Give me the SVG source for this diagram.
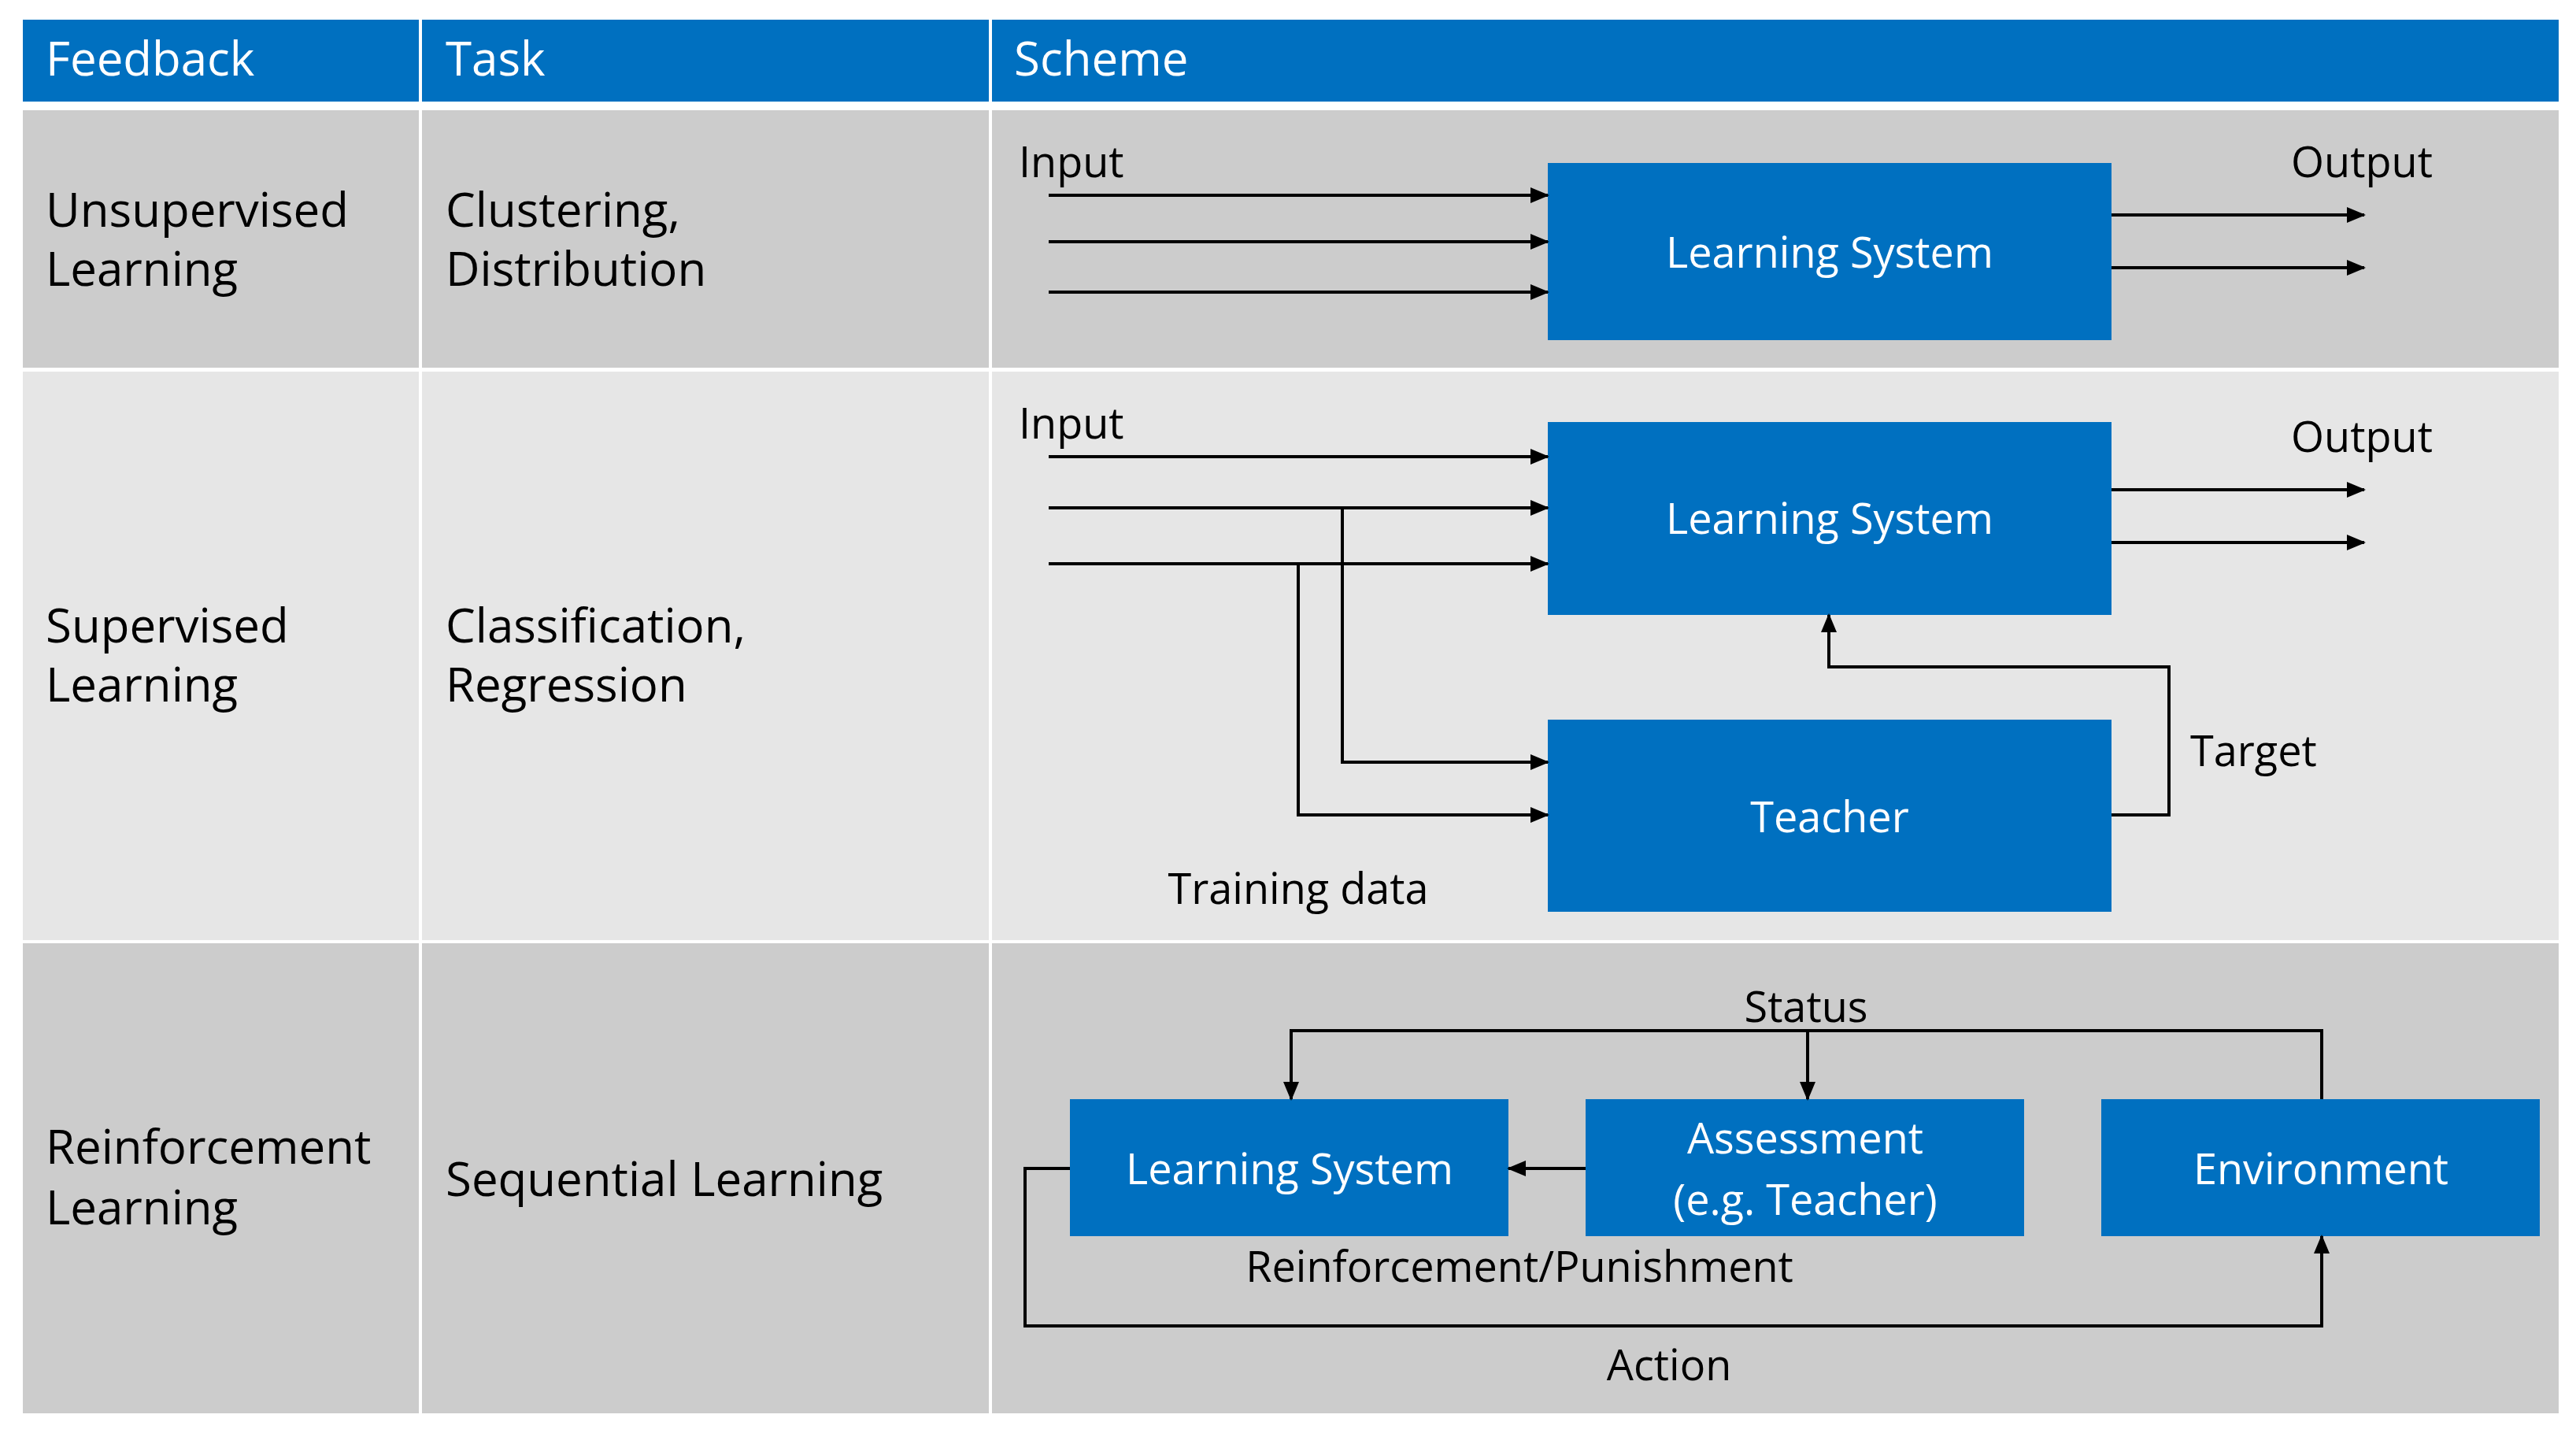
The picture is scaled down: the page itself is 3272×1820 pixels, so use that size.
<svg xmlns="http://www.w3.org/2000/svg" width="3272" height="1820" viewBox="0 0 3272 1820">
<style>
text{font-family:"Open Sans","Noto Sans","Liberation Sans",sans-serif}
.h{fill:#fff;font-size:60px}
.t{fill:#000;font-size:60px}
.l{fill:#000;font-size:54px}
.b{fill:#fff;font-size:54px;text-anchor:middle}
.box{fill:#0070C0}
.c{fill:none;stroke:#000;stroke-width:4}
</style>
<defs><marker id="a" markerUnits="userSpaceOnUse" markerWidth="24" markerHeight="20" refX="22" refY="10" orient="auto"><path d="M0,0 L24,10 L0,20 Z" fill="#000"/></marker></defs>
<rect width="3272" height="1820" fill="#fff"/>
<g id="table">
<rect x="29" y="25" width="3221" height="104" fill="#0070C0"/>
<rect x="29" y="140" width="3221" height="327" fill="#CCCCCC"/>
<rect x="29" y="472" width="3221" height="722" fill="#E6E6E6"/>
<rect x="29" y="1198" width="3221" height="597" fill="#CCCCCC"/>
<line x1="534" y1="25" x2="534" y2="1795" stroke="#fff" stroke-width="4"/>
<line x1="1258" y1="25" x2="1258" y2="1795" stroke="#fff" stroke-width="4"/>
<text class="h" x="58" y="96">Feedback</text>
<text class="h" x="566" y="96">Task</text>
<text class="h" x="1288" y="96">Scheme</text>
<text class="t" x="58" y="288">Unsupervised</text><text class="t" x="58" y="363">Learning</text>
<text class="t" x="566" y="288">Clustering,</text><text class="t" x="566" y="363">Distribution</text>
<text class="t" x="58" y="816">Supervised</text><text class="t" x="58" y="891">Learning</text>
<text class="t" x="566" y="816">Classification,</text><text class="t" x="566" y="891">Regression</text>
<text class="t" x="58" y="1478">Reinforcement</text><text class="t" x="58" y="1555">Learning</text>
<text class="t" x="566" y="1519">Sequential Learning</text>
</g>
<g id="n1"><rect class="box" x="1966" y="207" width="716" height="225"/><text class="b" x="2324" y="340">Learning System</text></g>
<g id="n2"><rect class="box" x="1966" y="536" width="716" height="245"/><text class="b" x="2324" y="678">Learning System</text></g>
<g id="n3"><rect class="box" x="1966" y="914" width="716" height="244"/><text class="b" x="2324" y="1057">Teacher</text></g>
<g id="n4"><rect class="box" x="1359" y="1396" width="557" height="174"/><text class="b" x="1638" y="1504">Learning System</text></g>
<g id="n5"><rect class="box" x="2014" y="1396" width="557" height="174"/><text class="b" x="2293" y="1465">Assessment</text><text class="b" x="2293" y="1543">(e.g. Teacher)</text></g>
<g id="n6"><rect class="box" x="2669" y="1396" width="557" height="174"/><text class="b" x="2948" y="1504">Environment</text></g>
<g id="connectors">
<path class="c" marker-end="url(#a)" d="M1332,248 H1966"/>
<path class="c" marker-end="url(#a)" d="M1332,307 H1966"/>
<path class="c" marker-end="url(#a)" d="M1332,371 H1966"/>
<path class="c" marker-end="url(#a)" d="M2682,273 H3003"/>
<path class="c" marker-end="url(#a)" d="M2682,340 H3003"/>
<path class="c" marker-end="url(#a)" d="M1332,580 H1966"/>
<path class="c" marker-end="url(#a)" d="M1332,645 H1966"/>
<path class="c" marker-end="url(#a)" d="M1332,716 H1966"/>
<path class="c" marker-end="url(#a)" d="M2682,622 H3003"/>
<path class="c" marker-end="url(#a)" d="M2682,689 H3003"/>
<path class="c" marker-end="url(#a)" d="M1705,645 V968 H1966"/>
<path class="c" marker-end="url(#a)" d="M1649,716 V1035 H1966"/>
<path class="c" marker-end="url(#a)" d="M2682,1035 H2755 V847 H2323 V781"/>
<path class="c" marker-end="url(#a)" d="M2949,1396 V1309 H1640 V1396"/>
<path class="c" marker-end="url(#a)" d="M2296,1309 V1396"/>
<path class="c" marker-end="url(#a)" d="M2014,1484 H1916"/>
<path class="c" marker-end="url(#a)" d="M1359,1484 H1302 V1684 H2949 V1570"/>
</g>
<g id="labels">
<text class="l" x="1294" y="225">Input</text>
<text class="l" x="3000" y="225" text-anchor="middle">Output</text>
<text class="l" x="1294" y="557">Input</text>
<text class="l" x="3000" y="574" text-anchor="middle">Output</text>
<text class="l" x="2782" y="973">Target</text>
<text class="l" x="1649" y="1148" text-anchor="middle">Training data</text>
<text class="l" x="2294" y="1298" text-anchor="middle">Status</text>
<text class="l" x="1930" y="1628" text-anchor="middle">Reinforcement/Punishment</text>
<text class="l" x="2120" y="1753" text-anchor="middle">Action</text>
</g>
</svg>
